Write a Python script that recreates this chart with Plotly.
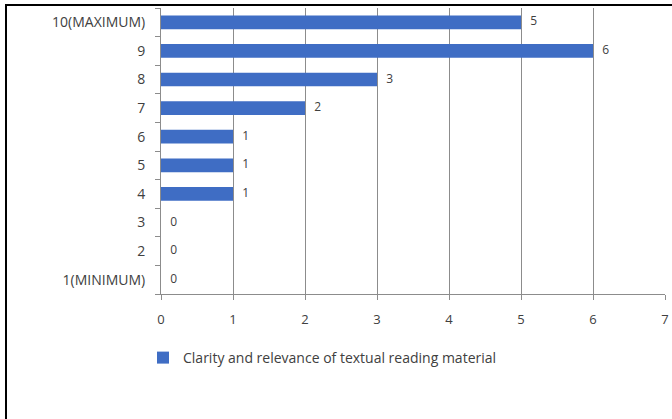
import plotly.graph_objects as go

categories = ["1(MINIMUM)", "2", "3", "4", "5", "6", "7", "8", "9", "10(MAXIMUM)"]
values = [0, 0, 0, 1, 1, 1, 2, 3, 6, 5]
series_name = "Clarity and relevance of textual reading material"

W, H = 672, 419
L, R, T, B = 161, 7, 8, 125
pw, ph = W - L - R, H - T - B
FONT = "Open Sans, Lato, sans-serif"
TXT = "#404040"

fig = go.Figure()
fig.add_trace(go.Bar(
    y=categories, x=values, orientation="h", name=series_name,
    marker=dict(color="#3F6DC4", line=dict(width=0)),
))
fig.add_trace(go.Scatter(
    y=categories, x=values, mode="text", showlegend=False, hoverinfo="skip",
    text=["   " + str(v) for v in values], textposition="middle right",
    textfont=dict(family=FONT, size=12, color=TXT), cliponaxis=False,
))

fig.update_layout(
    width=W, height=H,
    margin=dict(l=L, r=R, t=T, b=B, autoexpand=False),
    paper_bgcolor="white", plot_bgcolor="white",
    bargap=0.52,
    showlegend=True,
    legend=dict(orientation="h", x=(143 - L) / pw, xanchor="left",
                y=-(358 - T - ph) / ph, yanchor="middle",
                font=dict(family=FONT, size=14, color=TXT),
                bgcolor="rgba(0,0,0,0)"),
    font=dict(family=FONT, size=13, color=TXT),
    xaxis=dict(range=[0, 7], dtick=1, showgrid=True, gridcolor="#8C8C8C", gridwidth=1,
               showline=True, linecolor="#8C8C8C", linewidth=1,
               ticks="outside", ticklen=5, tickcolor="#8C8C8C",
               zeroline=False, tickfont=dict(family=FONT, size=13, color=TXT),
               ticklabelstandoff=8, automargin=False, fixedrange=True),
    yaxis=dict(showgrid=False, showline=True, linecolor="#8C8C8C", linewidth=1,
               ticks="outside", ticklen=5, tickcolor="#8C8C8C", tickson="boundaries",
               tickfont=dict(family=FONT, size=14, color=TXT), ticklabelstandoff=12,
               automargin=False, fixedrange=True),
    shapes=[
        dict(type="line", xref="paper", yref="paper",
             x0=(5 - L) / pw, x1=(W - L) / pw, y0=1 + (T - 5) / ph, y1=1 + (T - 5) / ph,
             line=dict(color="black", width=2)),
        dict(type="line", xref="paper", yref="paper",
             x0=(6 - L) / pw, x1=(6 - L) / pw, y0=1 + (T - 4) / ph, y1=-(B) / ph,
             line=dict(color="black", width=2)),
    ],
)

fig.write_html(
    "out.html", config={"displayModeBar": False},
    post_script=("document.body.style.margin='0';"
                 "document.body.style.overflow='hidden';"
                 "document.documentElement.style.overflow='hidden';"),
)
